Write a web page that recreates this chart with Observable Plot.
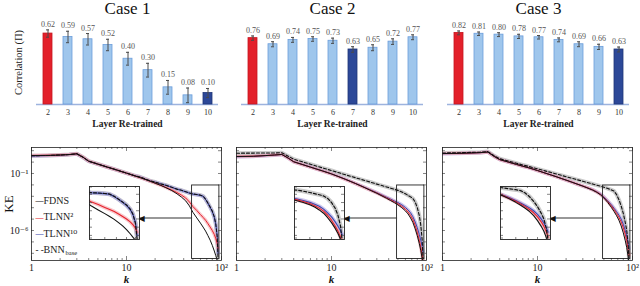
<!DOCTYPE html>
<html><head><meta charset="utf-8">
<script src="https://cdn.jsdelivr.net/npm/d3@7"></script>
<script src="https://cdn.jsdelivr.net/npm/@observablehq/plot@0.6"></script>
<style>
html,body{margin:0;padding:0;background:#fff;}
#fig{position:relative;width:640px;height:286px;overflow:hidden;background:#fff;}
#fig svg{position:absolute;max-width:none;overflow:visible;}
</style></head><body><div id="fig"></div>
<script>
// ---------- bar charts ----------
const layers = [2,3,4,5,6,7,8,9,10];
const caseTitles = ["Case 1","Case 2","Case 3"];
const corr1 = [0.62,0.59,0.57,0.52,0.40,0.30,0.15,0.08,0.10];
const err1  = [0.032,0.05,0.05,0.05,0.056,0.06,0.06,0.064,0.04];
const corr2 = [0.76,0.69,0.74,0.75,0.73,0.63,0.65,0.72,0.77];
const err2  = [0.025,0.029,0.028,0.026,0.03,0.032,0.034,0.032,0.028];
const corr3 = [0.82,0.81,0.80,0.78,0.77,0.74,0.69,0.66,0.63];
const err3  = [0.022,0.02,0.022,0.024,0.02,0.022,0.028,0.03,0.028];
const bestLayer = [10, 7, 10];
const barYMax = [0.734, 0.962, 0.962];

// ---------- spectra (log10 KE) ----------
const kWave = [1,1.5,2,2.5,3,3.5,4,5,6,7,8,9,10,12,14,16,18,20,23,26,30,34,38,42,46,50,55,60,64,68,72,76,80,84,87,90,92];
const bnn1   = [0.56,0.58,0.62,0.66,0.73,0.42,0.08,-0.17,-0.38,-0.55,-0.70,-0.84,-0.96,-1.17,-1.31,-1.50,-1.66,-1.75,-1.91,-2.03,-2.21,-2.37,-2.47,-2.60,-2.71,-2.80,-2.84,-2.90,-2.98,-3.25,-3.60,-3.95,-4.30,-4.80,-5.40,-6.50,-8.40];
const tlnn10_1 = [0.53,0.57,0.61,0.66,0.72,0.41,0.07,-0.18,-0.39,-0.56,-0.71,-0.85,-0.97,-1.18,-1.33,-1.51,-1.67,-1.76,-1.92,-2.05,-2.22,-2.38,-2.49,-2.61,-2.72,-2.81,-2.86,-2.92,-3.00,-3.28,-3.62,-3.98,-4.35,-4.85,-5.45,-6.40,-8.00];
const tlnn2_1  = [0.58,0.60,0.63,0.67,0.73,0.42,0.08,-0.18,-0.39,-0.56,-0.71,-0.85,-0.97,-1.19,-1.37,-1.54,-1.70,-1.84,-2.03,-2.22,-2.45,-2.67,-2.90,-3.15,-3.50,-3.90,-4.25,-4.60,-4.85,-5.10,-5.40,-5.70,-6.00,-6.35,-6.70,-7.10,-7.60];
const fdns1    = [0.57,0.59,0.62,0.66,0.73,0.42,0.08,-0.18,-0.39,-0.56,-0.71,-0.85,-0.97,-1.19,-1.37,-1.54,-1.70,-1.85,-2.05,-2.25,-2.50,-2.78,-3.08,-3.40,-3.85,-4.40,-4.90,-5.35,-5.70,-6.05,-6.45,-6.85,-7.30,-7.80,-8.20,-8.60,-9.00];

const bnn2     = [0.78,0.79,0.80,0.80,0.82,0.52,0.25,0.01,-0.19,-0.36,-0.50,-0.63,-0.74,-0.94,-1.11,-1.25,-1.38,-1.49,-1.64,-1.77,-1.93,-2.06,-2.18,-2.29,-2.39,-2.48,-2.62,-2.78,-2.92,-3.05,-3.20,-3.50,-4.00,-4.70,-5.50,-6.80,-8.50];
const tlnn10_2 = [0.47,0.50,0.56,0.61,0.67,0.35,0.03,-0.22,-0.43,-0.61,-0.76,-0.90,-1.03,-1.28,-1.50,-1.70,-1.88,-2.04,-2.26,-2.45,-2.68,-2.89,-3.08,-3.25,-3.41,-3.55,-3.75,-3.98,-4.20,-4.45,-4.80,-5.25,-5.75,-6.35,-6.85,-7.40,-7.90];
const tlnn2_2  = [0.50,0.52,0.57,0.62,0.67,0.35,0.03,-0.23,-0.44,-0.62,-0.77,-0.91,-1.04,-1.29,-1.51,-1.71,-1.89,-2.06,-2.28,-2.48,-2.71,-2.93,-3.13,-3.31,-3.48,-3.65,-3.88,-4.13,-4.38,-4.68,-5.05,-5.55,-6.15,-6.85,-7.45,-8.15,-8.80];
const fdns2    = [0.49,0.51,0.57,0.62,0.67,0.35,0.03,-0.23,-0.44,-0.62,-0.77,-0.91,-1.04,-1.29,-1.51,-1.71,-1.89,-2.06,-2.29,-2.50,-2.74,-2.97,-3.18,-3.38,-3.56,-3.75,-4.00,-4.28,-4.55,-4.90,-5.30,-5.85,-6.45,-7.15,-7.75,-8.45,-9.00];

const bnn3     = [0.80,0.82,0.85,0.87,0.92,0.55,0.30,0.08,-0.10,-0.25,-0.37,-0.49,-0.59,-0.77,-0.92,-1.05,-1.17,-1.28,-1.42,-1.54,-1.68,-1.81,-1.92,-2.02,-2.11,-2.20,-2.32,-2.44,-2.55,-2.85,-3.30,-3.85,-4.50,-5.30,-6.00,-7.20,-8.60];
const tlnn10_3 = [0.74,0.76,0.80,0.83,0.88,0.50,0.22,-0.01,-0.20,-0.36,-0.49,-0.62,-0.74,-0.96,-1.14,-1.30,-1.45,-1.58,-1.76,-1.92,-2.10,-2.27,-2.42,-2.60,-2.80,-3.05,-3.40,-3.75,-4.05,-4.35,-4.65,-5.00,-5.45,-6.00,-6.50,-7.10,-7.60];
const tlnn2_3  = [0.75,0.77,0.80,0.83,0.88,0.50,0.22,-0.01,-0.20,-0.36,-0.49,-0.62,-0.74,-0.96,-1.14,-1.30,-1.45,-1.58,-1.76,-1.92,-2.10,-2.27,-2.43,-2.62,-2.83,-3.10,-3.47,-3.85,-4.17,-4.50,-4.85,-5.25,-5.75,-6.35,-6.90,-7.60,-8.20];
const fdns3    = [0.75,0.77,0.80,0.83,0.88,0.50,0.22,-0.01,-0.20,-0.36,-0.49,-0.62,-0.74,-0.96,-1.14,-1.30,-1.45,-1.58,-1.76,-1.92,-2.11,-2.29,-2.46,-2.65,-2.87,-3.15,-3.55,-3.98,-4.33,-4.70,-5.10,-5.60,-6.20,-6.90,-7.50,-8.30,-9.00];

const xTicks = [1, 10, 100];
const xTickLabels = ["1", "10", "10²"];
const yTicks = [0.1, 1e-6];
const yTickLabels = ["10⁻¹", "10⁻⁶"];
const legendNames = ["FDNS", "TLNN²", "TLNN¹⁰", "BNN"];
const zoomK = [49, 95];
const zoomLogKE = [-8.5, -2.05];
const arrowK = [49, 13.7];
const arrowLogKE = -4.9;

// ---------- styling / layout ----------
const SERIF = '"Liberation Serif", "DejaVu Serif", serif';
const RED = "#e3202a", LIGHT = "#9fc6ec", DARK = "#2c4898";
const C_FDNS = "#111", C_T2 = "#e5222c", C_T10 = "#3a48b0", C_BNN = "#111";
const fig = document.getElementById("fig");
function place(svg, left, top) { svg.style.left = left + "px"; svg.style.top = top + "px"; fig.appendChild(svg); }

function barPanel(c, vals, errs) {
  const rows = layers.map((L, i) => ({L, v: vals[i], e: errs[i]}));
  const marks = [
    Plot.ruleY([0], {stroke: "#9db3de", strokeWidth: 1.6, insetLeft: 6, insetRight: 6}),
    Plot.barY(rows.filter(d => d.L !== 2 && d.L !== bestLayer[c]), {x: "L", y: "v", fill: LIGHT, stroke: "#6b9ddb", strokeWidth: 0.8}),
    Plot.barY(rows.filter(d => d.L === 2), {x: "L", y: "v", fill: RED, stroke: "#c5161e", strokeWidth: 0.8}),
    Plot.barY(rows.filter(d => d.L === bestLayer[c]), {x: "L", y: "v", fill: DARK, stroke: "#1f3577", strokeWidth: 0.8}),
    Plot.ruleX(rows, {x: "L", y1: d => d.v - d.e, y2: d => d.v + d.e, stroke: "#4a4a4a", strokeWidth: 1}),
    Plot.tickY(rows, {x: "L", y: d => d.v + d.e, stroke: "#4a4a4a", insetLeft: 3, insetRight: 3}),
    Plot.tickY(rows, {x: "L", y: d => d.v - d.e, stroke: "#4a4a4a", insetLeft: 3, insetRight: 3}),
    Plot.text(rows, {x: "L", y: d => d.v + d.e, text: d => d.v.toFixed(2), dy: -3, lineAnchor: "bottom", fontSize: 8, fill: "#555"}),
    Plot.text([caseTitles[c]], {frameAnchor: "top", dy: -12, lineAnchor: "middle", textAnchor: "middle", fontSize: 17, fill: "#111"}),
    Plot.text(["Layer Re-trained"], {frameAnchor: "bottom", dy: 19, lineAnchor: "middle", textAnchor: "middle", fontSize: 9.5, fontWeight: "bold", fill: "#222"})
  ];
  if (c === 0) marks.push(Plot.text(["Correlation (Π)"], {frameAnchor: "left", dx: -12, rotate: -90, lineAnchor: "middle", textAnchor: "middle", fontSize: 10.5, fill: "#222"}));
  const svg = Plot.plot({
    width: 225, height: 140, marginLeft: 30, marginRight: 1, marginTop: 20, marginBottom: 36,
    style: {fontFamily: SERIF, fontSize: "8px", background: "transparent", overflow: "visible", color: "#333"},
    x: {type: "band", domain: layers, padding: 0.56, tickSize: 0, tickPadding: 5, label: null},
    y: {domain: [0, barYMax[c]], axis: null},
    marks
  });
  place(svg, c * 205.3, 0);
}
barPanel(0, corr1, err1);
barPanel(1, corr2, err2);
barPanel(2, corr3, err3);

const spectra = [
  {fdns: fdns1, t2: tlnn2_1, t10: tlnn10_1, bnn: bnn1},
  {fdns: fdns2, t2: tlnn2_2, t10: tlnn10_2, bnn: bnn2},
  {fdns: fdns3, t2: tlnn2_3, t10: tlnn10_3, bnn: bnn3}
];
function rowsOf(arr) { return kWave.map((k, i) => ({k, ke: Math.pow(10, arr[i])})); }

function curveMarks(s, w) {
  const R = {fdns: rowsOf(s.fdns), t2: rowsOf(s.t2), t10: rowsOf(s.t10), bnn: rowsOf(s.bnn)};
  const o = {x: "k", y: "ke", clip: true};
  return [
    Plot.line(R.bnn, {...o, stroke: "#b5b5b5", strokeWidth: 4 * w, strokeOpacity: 0.7}),
    Plot.line(R.t10, {...o, stroke: "#a6a2e2", strokeWidth: 3.5 * w, strokeOpacity: 0.6}),
    Plot.line(R.t2, {...o, stroke: "#f4a2aa", strokeWidth: 3.5 * w, strokeOpacity: 0.6}),
    Plot.line(R.t10, {...o, stroke: C_T10, strokeWidth: 1 * w}),
    Plot.line(R.t2, {...o, stroke: C_T2, strokeWidth: 1 * w}),
    Plot.line(R.fdns, {...o, stroke: C_FDNS, strokeWidth: 1 * w}),
    Plot.line(R.bnn, {...o, stroke: C_BNN, strokeWidth: 1.1 * w, strokeDasharray: "3,2"})
  ];
}

const yDecades = [1e-8,1e-7,1e-6,1e-5,1e-4,1e-3,1e-2,1e-1,1,10];
const xMinor = [2,3,4,5,6,7,8,9,20,30,40,50,60,70,80,90];
function frameTicks(FW, FH, xMaj, xMin, yMaj) {
  const st = {stroke: "#333", strokeWidth: 0.6};
  return [
    Plot.ruleX(xMaj, {x: d => d, insetBottom: FH - 4, ...st}),
    Plot.ruleX(xMaj, {x: d => d, insetTop: FH - 4, ...st}),
    Plot.ruleX(xMin, {x: d => d, insetBottom: FH - 2, ...st}),
    Plot.ruleX(xMin, {x: d => d, insetTop: FH - 2, ...st}),
    Plot.ruleY(yMaj, {y: d => d, insetRight: FW - 3, ...st}),
    Plot.ruleY(yMaj, {y: d => d, insetLeft: FW - 3, ...st})
  ];
}

const frameLefts = [31, 236, 442];
function specPanel(c) {
  const s = spectra[c];
  const FW = 190, FH = 113;
  const marks = [
    ...frameTicks(FW, FH, xTicks, xMinor, yDecades),
    ...curveMarks(s, 1),
    Plot.rect([{a: zoomK[0], b: zoomK[1], lo: Math.pow(10, zoomLogKE[0]), hi: Math.pow(10, zoomLogKE[1])}],
      {x1: "a", x2: "b", y1: "lo", y2: "hi", fill: "none", stroke: "#222", strokeWidth: 0.9}),
    Plot.link([{a: arrowK[0], b: arrowK[1], y: Math.pow(10, arrowLogKE)}],
      {x1: "a", x2: "b", y1: "y", y2: "y", stroke: "#333", strokeWidth: 1.1}),
    Plot.text([{b: arrowK[1], y: Math.pow(10, arrowLogKE)}],
      {x: "b", y: "y", text: () => "◀", textAnchor: "start", fontSize: 8, fill: "#111", fontFamily: "DejaVu Sans", dx: -1}),
    Plot.frame({stroke: "#222", strokeWidth: 0.8}),
    Plot.text(["k"], {frameAnchor: "bottom", dy: 19, lineAnchor: "middle", textAnchor: "middle", fontSize: 11, fontWeight: "bold", fontStyle: "italic", fill: "#111"})
  ];
  if (c === 0) {
    marks.push(Plot.text(["KE"], {frameAnchor: "left", dx: -23, rotate: -90, lineAnchor: "middle", textAnchor: "middle", fontSize: 13, fill: "#111"}));
    const cols = [C_FDNS, C_T2, C_T10, C_BNN];
    const ys = [53, 69.5, 86, 102.5];
    legendNames.forEach((n, i) => {
      marks.push(Plot.text([i === 3 ? "- -" : "—"], {frameAnchor: "top-left", dx: 4, dy: ys[i], lineAnchor: "middle", textAnchor: "start", fontSize: i === 3 ? 9 : 8, fontWeight: "bold", fill: cols[i]}));
      marks.push(Plot.text([n], {frameAnchor: "top-left", dx: 12, dy: ys[i], lineAnchor: "middle", textAnchor: "start", fontSize: 10, fill: "#222"}));
    });
    marks.push(Plot.text(["base"], {frameAnchor: "top-left", dx: 34, dy: ys[3] + 3, lineAnchor: "middle", textAnchor: "start", fontSize: 6.5, fill: "#222"}));
  }
  const svg = Plot.plot({
    width: 230, height: 146, marginLeft: 31, marginRight: 9, marginTop: 7, marginBottom: 26,
    style: {fontFamily: SERIF, fontSize: "10px", background: "transparent", overflow: "visible", color: "#222"},
    x: {type: "log", domain: [1, 100], ticks: xTicks, tickFormat: d => xTickLabels[xTicks.indexOf(d)], tickSize: 0, tickPadding: 3, label: null},
    y: {type: "log", domain: [Math.pow(10, -8.63), Math.pow(10, 1.28)], axis: c === 0 ? "left" : null,
        ticks: yTicks, tickFormat: d => yTickLabels[yTicks.indexOf(d)], tickSize: 0, tickPadding: 3, label: null},
    marks
  });
  place(svg, frameLefts[c] - 31, 140);

  // inset (zoom of the boxed region)
  const inset = Plot.plot({
    width: 50, height: 53, marginLeft: 0, marginRight: 0, marginTop: 0, marginBottom: 0,
    style: {fontFamily: SERIF, background: "#fff", overflow: "visible"},
    x: {type: "log", domain: zoomK, axis: null},
    y: {type: "log", domain: [Math.pow(10, zoomLogKE[0]), Math.pow(10, zoomLogKE[1])], axis: null},
    marks: [
      ...curveMarks(s, 1.1),
      ...frameTicks(50, 53, [], [50, 60, 70, 80, 90], [1e-8,1e-7,1e-6,1e-5,1e-4,1e-3]),
      Plot.frame({stroke: "#222", strokeWidth: 0.9})
    ]
  });
  place(inset, frameLefts[c] + 58, 186);
}
specPanel(0);
specPanel(1);
specPanel(2);
</script>
</body></html>
